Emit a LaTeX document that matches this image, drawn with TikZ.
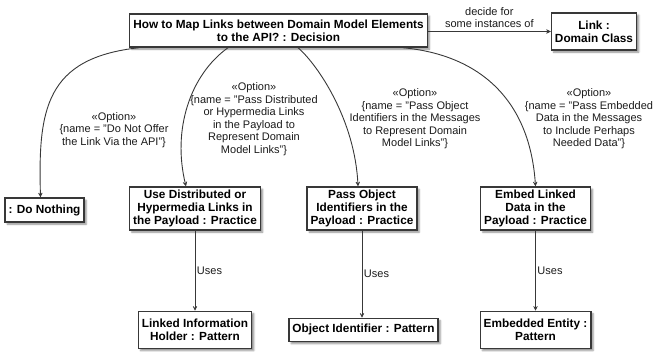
\documentclass[tikz,border=0pt]{standalone}
\usepackage{fontspec}
\setmainfont{Liberation Sans}
\usepackage{tikz}
\usetikzlibrary{positioning, arrows.meta, shadows.blur}
\definecolor{umlline}{HTML}{383838}
\definecolor{umltext}{HTML}{1A1A1A}

\begin{document}
\begin{tikzpicture}[
  x=1pt, y=-1pt,
  font=\fontsize{11}{12.5}\selectfont,
  box/.style={draw=umlline, line width=1.4pt, fill=white, align=center,
    inner xsep=3.5pt, inner ysep=2.5pt,
    font=\fontsize{11.8}{13.4}\selectfont\bfseries,
    blur shadow={shadow xshift=2.2pt, shadow yshift=-2.2pt,
      shadow blur radius=1.8pt, shadow opacity=45}},
  arrow/.style={-{Stealth[length=7pt, width=7pt, inset=4.5pt]},
    draw=umlline, line width=0.9pt},
  optlabel/.style={align=center, text=umltext, inner sep=0pt},
]
  \useasboundingbox (0,0) rectangle (655,352);

  \node[box, minimum height=33pt] (dec) at (278.5,30.5)
    {How to Map Links between Domain Model Elements\\to the API? : Decision};
  \node[box, minimum height=37pt] (link) at (594,31.5) {Link :\\Domain Class};

  \node[box, minimum height=24pt] (nothing) at (44.5,210) {: Do Nothing};
  \node[box, minimum height=43pt] (dist) at (195,208.5)
    {Use Distributed or\\Hypermedia Links in\\the Payload : Practice};
  \node[box, minimum height=43pt] (obj) at (362,208.5)
    {Pass Object\\Identifiers in the\\Payload : Practice};
  \node[box, minimum height=43pt] (embed) at (535.5,208.5)
    {Embed Linked\\Data in the\\Payload : Practice};

  \node[box, minimum height=37pt, below=80pt of dist] (lih) {Linked Information\\Holder : Pattern};
  \node[box, minimum height=23pt, below=87pt of obj, xshift=1.5pt] (oid) {Object Identifier : Pattern};
  \node[box, minimum height=37pt, below=80pt of embed] (ent) {Embedded Entity :\\Pattern};

  \node[optlabel] (opt1) at (114,130)
    {«Option»\\\{name = "Do Not Offer\\the Link Via the API"\}};
  \node[optlabel] (opt2) at (254,119)
    {«Option»\\\{name = "Pass Distributed\\or Hypermedia Links\\in the Payload to\\Represent Domain\\Model Links"\}};
  \node[optlabel] (opt3) at (415,119)
    {«Option»\\\{name = "Pass Object\\Identifiers in the Messages\\to Represent Domain\\Model Links"\}};
  \node[optlabel] (opt4) at (589,119)
    {«Option»\\\{name = "Pass Embedded\\Data in the Messages\\to Include Perhaps\\Needed Data"\}};

  \draw[arrow] (dec.east |- link) -- node[above, optlabel, inner sep=3pt]
    {decide for\\some instances of} (link);

  \draw[arrow] ([xshift=10pt]dec.south west) .. controls (45,58) and (38,110) .. ([xshift=-4pt]nothing.north);
  \draw[arrow] ([xshift=-50.5pt]dec.south) .. controls (190,75) and (172,130) .. ([xshift=-9pt]dist.north);
  \draw[arrow] ([xshift=19.5pt]dec.south) .. controls (318,65) and (355,120) .. ([xshift=-4pt]obj.north);
  \draw[arrow] ([xshift=-25pt]dec.south east) .. controls (480,55) and (530,100) .. (embed.north);

  \draw[arrow] (dist) -- node[right, optlabel, inner sep=1.5pt] {Uses} (lih);
  \draw[arrow] (obj) -- node[right, optlabel, inner sep=1.5pt] {Uses} (obj |- oid.north);
  \draw[arrow] (embed) -- node[right, optlabel, inner sep=1.5pt] {Uses} (ent);
\end{tikzpicture}
\end{document}
